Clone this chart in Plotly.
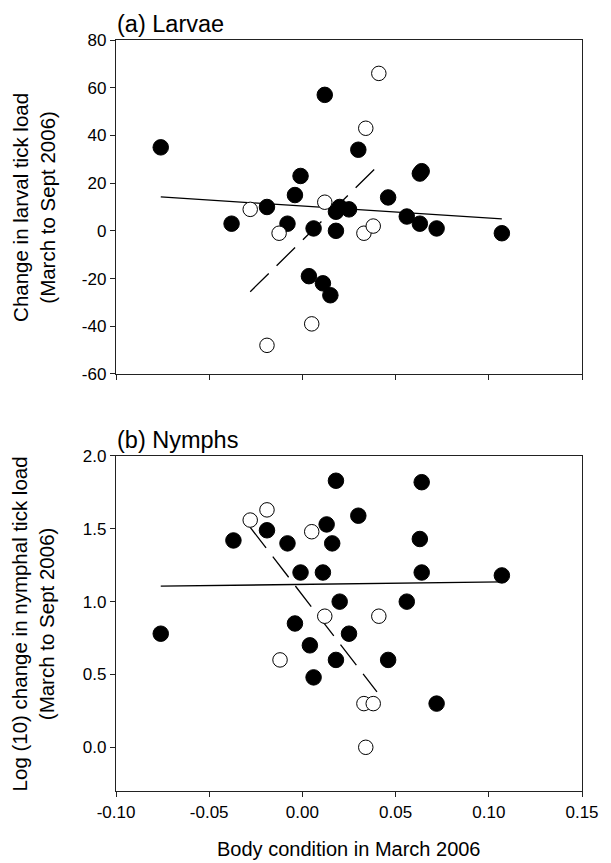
import plotly.graph_objects as go

# ---- data: (a) Larvae ----
larv_filled_x = [-0.076, -0.038, -0.019, -0.008, -0.004, -0.001, 0.0035, 0.006, 0.011, 0.012, 0.015,
                 0.018, 0.018, 0.020, 0.025, 0.030, 0.046, 0.056, 0.063, 0.063, 0.064, 0.072, 0.107]
larv_filled_y = [35, 3, 10, 3, 15, 23, -19, 1, -22, 57, -27,
                 0, 8, 10, 9, 34, 14, 6, 3, 24, 25, 1, -1]
larv_open_x = [-0.028, -0.019, -0.0125, 0.005, 0.012, 0.033, 0.034, 0.038, 0.041]
larv_open_y = [9, -48, -1, -39, 12, -1, 43, 2, 66]
larv_fit_solid_x = [-0.076, 0.107]
larv_fit_solid_y = [14.2, 5.0]
larv_fit_dash_x = [-0.028, 0.041]
larv_fit_dash_y = [-25.5, 27.6]

# ---- data: (b) Nymphs ----
nym_filled_x = [0.018, 0.064, -0.019, -0.037, -0.008, 0.013, 0.030, 0.016, 0.063, -0.001, 0.011,
                0.064, 0.107, 0.020, 0.056, -0.004, -0.076, 0.025, 0.004, 0.018, 0.046, 0.006, 0.072]
nym_filled_y = [1.83, 1.82, 1.49, 1.42, 1.40, 1.53, 1.59, 1.40, 1.43, 1.20, 1.20,
                1.20, 1.18, 1.00, 1.00, 0.85, 0.78, 0.78, 0.70, 0.60, 0.60, 0.48, 0.30]
nym_open_x = [-0.028, -0.019, -0.012, 0.005, 0.012, 0.033, 0.034, 0.038, 0.041]
nym_open_y = [1.56, 1.63, 0.60, 1.48, 0.90, 0.30, 0.0, 0.30, 0.90]
nym_fit_solid_x = [-0.076, 0.107]
nym_fit_solid_y = [1.106, 1.136]
nym_fit_dash_x = [-0.028, 0.040]
nym_fit_dash_y = [1.51, 0.38]

x_ticks = [-0.10, -0.05, 0.00, 0.05, 0.10, 0.15]
x_ticktext = ["-0.10", "-0.05", "0.00", "0.05", "0.10", "0.15"]
y1_ticks = [-60, -40, -20, 0, 20, 40, 60, 80]
y1_ticktext = ["-60", "-40", "-20", "0", "20", "40", "60", "80"]
y2_ticks = [0.0, 0.5, 1.0, 1.5, 2.0]
y2_ticktext = ["0.0", "0.5", "1.0", "1.5", "2.0"]

FONT = "Liberation Sans, Arial, sans-serif"
filled_marker = dict(size=15.5, color="black", line=dict(color="black", width=1))
open_marker = dict(size=14.5, color="white", line=dict(color="black", width=1))
dash_style = "26px,11px"

fig = go.Figure()
# top panel
fig.add_trace(go.Scatter(x=larv_fit_solid_x, y=larv_fit_solid_y, mode="lines",
                         line=dict(color="black", width=1.3), xaxis="x", yaxis="y"))
fig.add_trace(go.Scatter(x=larv_fit_dash_x, y=larv_fit_dash_y, mode="lines",
                         line=dict(color="black", width=1.3, dash=dash_style), xaxis="x", yaxis="y"))
fig.add_trace(go.Scatter(x=larv_filled_x, y=larv_filled_y, mode="markers",
                         marker=filled_marker, xaxis="x", yaxis="y"))
fig.add_trace(go.Scatter(x=larv_open_x, y=larv_open_y, mode="markers",
                         marker=open_marker, xaxis="x", yaxis="y"))
# bottom panel
fig.add_trace(go.Scatter(x=nym_fit_solid_x, y=nym_fit_solid_y, mode="lines",
                         line=dict(color="black", width=1.3), xaxis="x2", yaxis="y2"))
fig.add_trace(go.Scatter(x=nym_fit_dash_x, y=nym_fit_dash_y, mode="lines",
                         line=dict(color="black", width=1.3, dash=dash_style), xaxis="x2", yaxis="y2"))
fig.add_trace(go.Scatter(x=nym_filled_x, y=nym_filled_y, mode="markers",
                         marker=filled_marker, xaxis="x2", yaxis="y2"))
fig.add_trace(go.Scatter(x=nym_open_x, y=nym_open_y, mode="markers",
                         marker=open_marker, xaxis="x2", yaxis="y2"))

axis_common = dict(showline=True, linecolor="#222", linewidth=1.3, mirror=True,
                   ticks="outside", ticklen=5, tickwidth=1, tickcolor="#222",
                   showgrid=False, zeroline=False,
                   tickfont=dict(family=FONT, size=17, color="black"))

fig.update_layout(
    width=611, height=863,
    margin=dict(l=116, r=18, t=40, b=72),
    paper_bgcolor="white", plot_bgcolor="white",
    showlegend=False,
    font=dict(family=FONT, color="black"),
    xaxis=dict(domain=[0, 1], anchor="y", range=[-0.10, 0.15], tickvals=x_ticks,
               ticktext=x_ticktext, showticklabels=False, **axis_common),
    yaxis=dict(domain=[0.5553, 1], anchor="x", range=[-60, 80], tickvals=y1_ticks,
               ticktext=y1_ticktext, **axis_common),
    xaxis2=dict(domain=[0, 1], anchor="y2", range=[-0.10, 0.15], tickvals=x_ticks,
                ticktext=x_ticktext, **axis_common),
    yaxis2=dict(domain=[0, 0.4461], anchor="x2", range=[-0.3, 2.0], tickvals=y2_ticks,
                ticktext=y2_ticktext, **axis_common),
)

ann_font = dict(family=FONT, size=20.5, color="black")
title_font = dict(family=FONT, size=23.5, color="black")
fig.add_annotation(text="(a) Larvae", xref="paper", yref="paper", x=0.0, y=1.0,
                   xanchor="left", yanchor="bottom", showarrow=False,
                   font=title_font, xshift=-1, yshift=1)
fig.add_annotation(text="(b) Nymphs", xref="paper", yref="paper", x=0.0, y=0.4461,
                   xanchor="left", yanchor="bottom", showarrow=False,
                   font=title_font, xshift=-1, yshift=1)
fig.add_annotation(text="Change in larval tick load<br>(March to Sept 2006)",
                   xref="paper", yref="paper", x=(32 - 116) / 477, y=(0.5553 + 1) / 2,
                   xanchor="center", yanchor="middle", textangle=-90, showarrow=False,
                   font=ann_font)
fig.add_annotation(text="Log (10) change in nymphal tick load<br>(March to Sept 2006)",
                   xref="paper", yref="paper", x=(32 - 116) / 477, y=0.4461 / 2,
                   xanchor="center", yanchor="middle", textangle=-90, showarrow=False,
                   font=ann_font)
fig.add_annotation(text="Body condition in March 2006", xref="paper", yref="paper",
                   x=0.5, y=0, yshift=-58, xanchor="center", yanchor="middle",
                   showarrow=False, font=dict(family=FONT, size=20, color="black"))

fig.write_html("out.html")
